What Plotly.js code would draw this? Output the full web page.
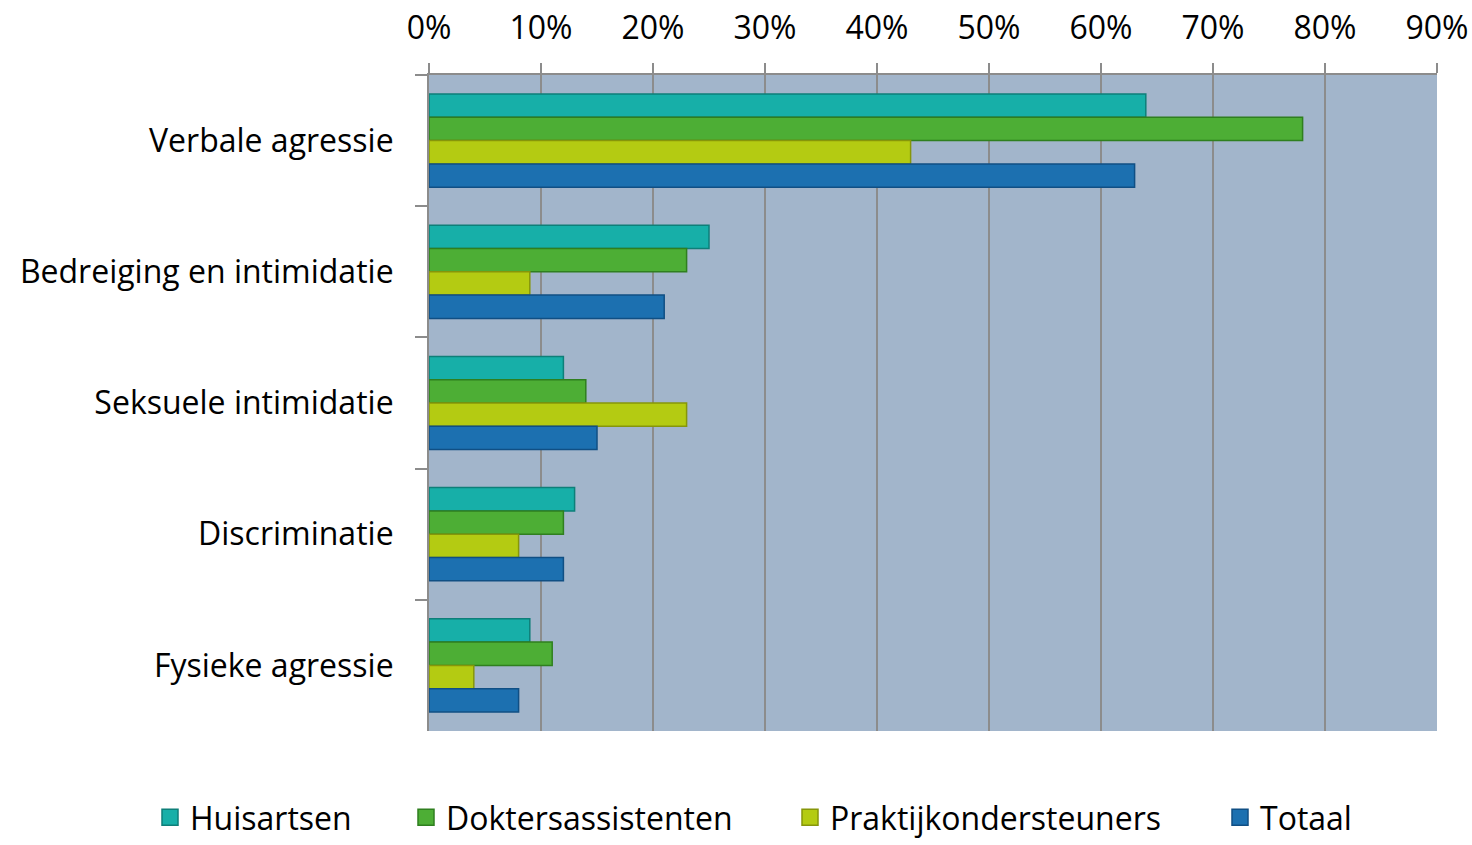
<!DOCTYPE html>
<html>
<head>
<meta charset="utf-8">
<script src="https://cdn.plot.ly/plotly-3.0.1.min.js"></script>
<style>html,body{margin:0;padding:0;background:#fff;}#chart{width:1472px;height:845px;}</style>
</head>
<body>
<div id="chart"></div>
<script>
const categories = ["Verbale agressie", "Bedreiging en intimidatie", "Seksuele intimidatie", "Discriminatie", "Fysieke agressie"];
const seriesNames = ["Huisartsen", "Doktersassistenten", "Praktijkondersteuners", "Totaal"];
const huisartsen = [64, 25, 12, 13, 9];
const doktersassistenten = [78, 23, 14, 12, 11];
const praktijkondersteuners = [43, 9, 23, 8, 4];
const totaal = [63, 21, 15, 12, 8];
const tickValues = [0, 10, 20, 30, 40, 50, 60, 70, 80, 90];
const tickLabels = ["0%", "10%", "20%", "30%", "40%", "50%", "60%", "70%", "80%", "90%"];

const seriesValues = [huisartsen, doktersassistenten, praktijkondersteuners, totaal];
const fills = ["#17AFA8", "#4DAE35", "#B4CB12", "#1C70B0"];
const edges = ["#0E7F79", "#2F7F1F", "#86960A", "#104F84"];
const legendIds = ["legend", "legend2", "legend3", "legend4"];
const legendX = [150, 406, 790, 1220];

const font = "'Open Sans', 'Noto Sans', sans-serif";
const fsize = 32;

const traces = seriesNames.map((name, i) => ({
  type: "bar",
  orientation: "h",
  name: name,
  y: categories,
  x: seriesValues[i],
  showlegend: false,
  marker: { color: fills[i], line: { color: edges[i], width: 1.5 } },
  hoverinfo: "x+name"
}));
// legend-only entries with larger square swatches
seriesNames.forEach((name, i) => {
  traces.push({
    type: "scatter",
    mode: "markers",
    name: name,
    x: [null], y: [null],
    legend: legendIds[i],
    showlegend: true,
    marker: { symbol: "square", size: 20, color: fills[i], line: { color: edges[i], width: 1.5 } },
    hoverinfo: "skip"
  });
});

const layout = {
  width: 1472, height: 845,
  margin: { l: 429, r: 35, t: 75, b: 114 },
  paper_bgcolor: "#ffffff",
  plot_bgcolor: "#A2B5CB",
  barmode: "group",
  bargap: 0.29,
  bargroupgap: 0,
  font: { family: font, size: fsize, color: "#000" },
  xaxis: {
    side: "top",
    range: [0, 90],
    tickvals: tickValues,
    ticktext: tickLabels,
    ticks: "outside",
    ticklen: 10,
    tickcolor: "#8C8C8C",
    tickwidth: 2,
    ticklabelstandoff: 11,
    showgrid: true,
    gridcolor: "#8C8C8C",
    gridwidth: 2,
    zeroline: false,
    showline: true,
    linecolor: "#8C8C8C",
    linewidth: 2,
    automargin: false,
    tickfont: { family: font, size: fsize, color: "#000" },
    fixedrange: true
  },
  yaxis: {
    type: "category",
    autorange: "reversed",
    ticks: "outside",
    tickson: "boundaries",
    ticklen: 12,
    tickcolor: "#8C8C8C",
    tickwidth: 2,
    ticklabelstandoff: 27,
    showline: true,
    linecolor: "#8C8C8C",
    linewidth: 2,
    showgrid: false,
    automargin: false,
    tickfont: { family: font, size: fsize, color: "#000" },
    fixedrange: true
  },
  showlegend: true
};
legendIds.forEach((id, i) => {
  layout[id] = {
    orientation: "h",
    xref: "container", yref: "container",
    x: legendX[i] / 1472, xanchor: "left",
    y: -0.006, yanchor: "bottom",
    bgcolor: "rgba(0,0,0,0)",
    font: { family: font, size: fsize, color: "#000" },
    itemwidth: 30
  };
});

Plotly.newPlot("chart", traces, layout, { displayModeBar: false, staticPlot: true });
</script>
</body>
</html>
